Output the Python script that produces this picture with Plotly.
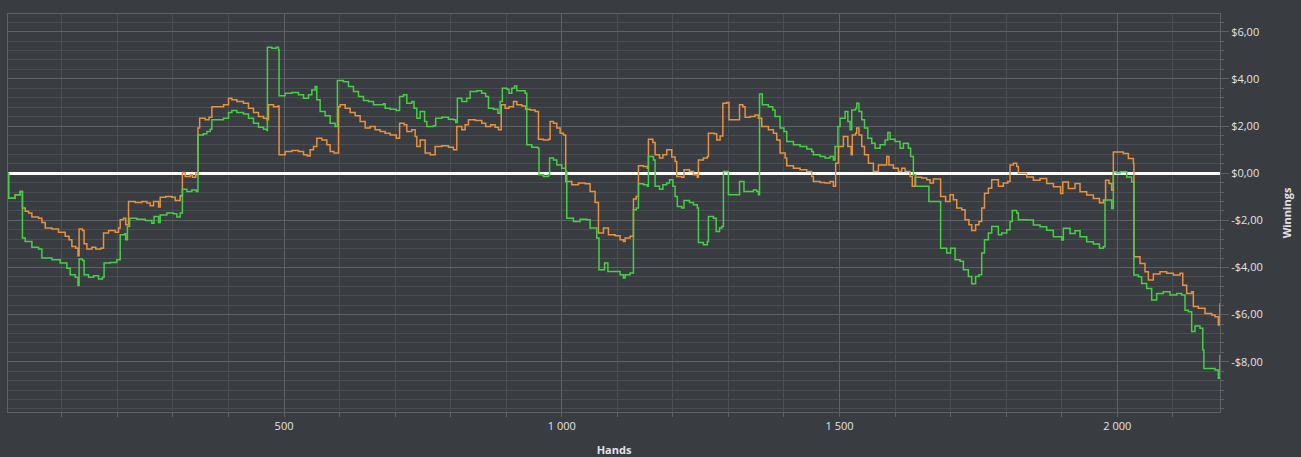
import plotly.graph_objects as go

# data (hand number, cumulative winnings in $)
green_hands = [3, 4, 16, 25, 29, 34, 46, 58, 64, 82, 97, 109, 115, 124, 129, 131, 137, 140, 148, 157,
               166, 173, 176, 187, 199, 205, 213, 215, 218, 222, 235, 250, 262, 266, 274, 277, 289, 301,
               307, 313, 317, 325, 334, 342, 345, 355, 361, 367,
               370, 391, 400, 406, 415, 427, 436, 445, 454, 463, 469, 470, 478, 486, 490, 491, 502, 514,
               526, 535, 544, 550, 556, 559, 565, 574, 583, 592, 596, 607, 616, 625, 634, 643, 652, 661,
               679, 682, 691, 702, 708, 715, 721, 730, 734, 739,
               745, 753, 757, 769, 773, 784, 796, 805, 809, 812, 820, 829, 835, 847, 856, 863, 868, 877,
               885, 889, 893, 901, 905, 910, 915, 919, 928, 934, 937, 946, 957, 959, 967, 976, 978, 985,
               991, 1000, 1007, 1009, 1021, 1033, 1045, 1051, 1063, 1067, 1077, 1083, 1096, 1105,
               1111, 1114, 1123, 1129, 1134, 1138, 1147, 1154, 1156, 1165, 1168, 1176, 1182, 1189, 1194,
               1200, 1204, 1208, 1216, 1220, 1230, 1237, 1244, 1246, 1255, 1262, 1264, 1273, 1278, 1284,
               1288, 1291, 1300, 1320, 1328, 1345, 1351, 1354, 1356, 1361, 1372, 1380, 1384, 1393, 1400,
               1405, 1417, 1429, 1441, 1450, 1453, 1465, 1474,
               1483, 1489, 1492, 1497, 1501, 1510, 1515, 1519, 1522, 1529, 1531, 1535, 1540, 1545, 1551,
               1558, 1564, 1573, 1582, 1587, 1591, 1600, 1609, 1615, 1624, 1628, 1633, 1637, 1661, 1682,
               1693, 1700, 1708, 1717, 1723, 1732, 1738, 1745, 1751, 1756, 1761, 1768, 1774, 1786, 1792,
               1801, 1807, 1811, 1819, 1822,
               1837, 1849, 1861, 1873, 1885, 1900, 1903, 1915, 1924, 1933, 1945, 1957, 1968, 1975, 1978,
               1990, 1993, 1999, 2005, 2017, 2026, 2030, 2038, 2044, 2053, 2062, 2071, 2083, 2095, 2107,
               2116, 2122, 2128, 2134, 2140, 2149, 2154, 2156, 2176, 2182, 2185]
green_won = [0, -1.06, -0.92, -0.78, -2.75, -2.90, -3.14, -3.22, -3.60, -3.67, -3.81, -4.03, -4.31, -4.41,
             -4.77, -3.64, -3.70, -4.31, -4.41, -4.35, -4.49, -4.41, -3.81, -3.79, -3.67, -2.61, -2.57,
             -2.82, -2.26, -1.91, -1.95, -2.01, -2.12, -1.84, -2.09, -1.77, -1.69, -1.72, -1.86, -1.69,
             -0.68, -0.78, -0.71, -0.78, 1.62, 1.67, 1.77, 1.86,
             2.26, 2.33, 2.57, 2.66, 2.57, 2.51, 2.33, 2.12, 1.95, 1.86, 1.81, 5.34, 5.30, 5.34, 5.23,
             3.28, 3.39, 3.42, 3.32, 3.18, 3.32, 3.53, 3.67, 3.11, 2.61, 2.43, 2.12, 1.98, 3.93, 3.88,
             3.67, 3.46, 3.25, 3.08, 3.04, 2.90, 2.94, 2.75, 2.71, 2.66, 3.25, 3.32, 2.97, 3.04, 2.75, 2.33,
             2.61, 2.19, 1.98, 2.01, 2.33, 2.37, 2.29, 2.26, 2.15, 3.18, 3.04, 3.18, 3.46, 3.50, 3.39,
             3.25, 2.75, 2.71, 2.54, 3.04, 3.60, 3.56, 3.39, 3.60, 3.70, 3.50, 3.50, 3.39, 1.20, 1.10,
             1.06, -0.07, -0.14, -0.07, 0.64, 0.56, 0.35, 0.21, 0.07, -1.91, -2.05, -1.95, -1.98, -2.33,
             -2.75, -4.10, -3.81, -4.17, -4.17, -4.31,
             -4.45, -4.31, -4.24, -1.55, -1.48, -0.45, -0.49, -0.56, 0.71, 0.56, -0.56, -0.68, -0.49,
             -0.42, -0.28, -0.56, -0.99, -1.41, -1.48, -1.16, -1.24, -1.34, -1.48, -2.94, -3.04, -2.90,
             -1.84, -1.91, -2.47, -2.33, -2.26, 0.07, -0.92, -0.35, -0.78, -0.71, -0.78, -0.92, 3.36,
             2.90, 2.82, 2.68, 2.40, 1.91, 1.77, 1.34, 1.20, 1.13, 1.02, 0.92, 0.78, 0.71, 0.64,
             0.71, 0.56, 1.13, 1.98, 2.33, 2.61, 2.19, 1.84, 2.68, 2.75, 2.97, 2.61, 2.26, 1.91, 1.48,
             1.27, 1.06, 1.20, 1.41, 1.72, 1.44, 1.34, 1.06, 1.27, 1.06, 0.71, -0.07, -0.56, -1.20, -3.18,
             -3.39, -3.18, -3.67, -3.74, -4.10, -4.38, -4.69, -4.38, -4.31, -3.39, -2.82, -2.54, -2.26,
             -2.61, -2.54, -2.40, -2.05, -1.58, -1.69, -1.98,
             -1.99, -2.20, -2.27, -2.42, -2.70, -2.84, -2.34, -2.56, -2.44, -2.70, -2.91, -3.01, -3.19,
             -3.12, -1.14, -1.50, 0.06, 0.01, 0.06, -0.16, -0.37, -4.32, -4.39, -4.68, -4.89, -5.38,
             -5.10, -5.03, -5.17, -5.10, -5.17, -5.81, -5.88, -6.72, -6.48, -6.58, -7.50, -8.28, -8.35,
             -8.70, -7.71]

orange_hands = [3, 4, 16, 25, 29, 34, 40, 46, 58, 64, 70, 82, 94, 106, 113, 118, 125, 129, 131, 137,
                140, 145, 154, 161, 170, 175, 184, 196, 202, 205, 211, 215, 220, 232, 244, 253, 259, 265,
                274, 277, 287, 298, 304, 313, 317, 322, 331, 335, 341, 345, 348, 358, 365, 370,
                391, 400, 406, 415, 427, 436, 445, 454, 463, 469, 472, 481, 489, 491, 502, 514, 526, 535,
                542, 547, 553, 559, 568, 577, 583, 590, 598, 601, 610, 619, 628, 637, 646, 655, 664, 673,
                682, 691, 702, 708, 716, 721, 730, 736, 739, 745,
                754, 763, 772, 784, 796, 805, 811, 820, 826, 832, 844, 856, 863, 872, 880, 886, 891, 898,
                905, 913, 919, 928, 935, 943, 952, 958, 967, 976, 979, 985, 991, 997, 1003, 1007, 1018,
                1030, 1042, 1051, 1060, 1066, 1075, 1084, 1096, 1105,
                1111, 1114, 1123, 1129, 1134, 1138, 1147, 1154, 1156, 1164, 1168, 1176, 1182, 1189, 1198,
                1204, 1207, 1216, 1220, 1230, 1237, 1244, 1246, 1255, 1262, 1264, 1274, 1279, 1285, 1290,
                1297, 1301, 1316, 1320, 1326, 1330, 1339, 1348, 1354, 1360, 1372, 1381, 1387, 1393, 1402,
                1405, 1417, 1429, 1441, 1450, 1453, 1465, 1474,
                1483, 1489, 1493, 1498, 1507, 1515, 1521, 1523, 1529, 1531, 1535, 1540, 1545, 1552, 1561,
                1570, 1585, 1589, 1597, 1606, 1612, 1618, 1627, 1631, 1636, 1648, 1657, 1663, 1669, 1682,
                1691, 1699, 1705, 1711, 1720, 1726, 1733, 1738, 1745, 1751, 1756, 1761, 1768, 1774, 1786,
                1795, 1803, 1807, 1813, 1819, 1822,
                1837, 1849, 1861, 1873, 1885, 1898, 1902, 1912, 1924, 1933, 1945, 1957, 1968, 1975, 1979,
                1985, 1990, 1993, 2011, 2020, 2029, 2030, 2041, 2050, 2056, 2065, 2077, 2089, 2101, 2113,
                2118, 2125, 2134, 2137, 2146, 2158, 2170, 2176, 2182, 2185]
orange_won = [0, -1.06, -0.92, -0.78, -1.48, -1.62, -1.69, -1.86, -1.91, -2.09, -2.33, -2.37, -2.51,
              -2.68, -2.82, -3.11, -3.18, -3.50, -2.37, -2.43, -2.99, -3.22, -3.14, -3.22, -3.18, -2.54,
              -2.43, -2.51, -2.33, -1.98, -1.91, -2.19, -1.20, -1.24, -1.20, -1.27, -1.38, -1.20, -1.44,
              -1.02, -0.99, -1.02, -1.16, -0.96, 0.03, -0.14, -0.07, -0.17, 0.0, 1.91, 2.33, 2.26, 2.37, 2.82,
              2.90, 3.18, 3.11, 3.04, 2.97, 2.75, 2.57, 2.40, 2.33, 2.26, 2.90, 2.82, 2.85, 0.78, 0.92,
              0.96, 0.92, 0.78, 0.73, 0.99, 1.13, 1.48, 1.41, 1.20, 0.92, 0.85, 2.82, 2.90, 2.75, 2.57,
              2.43, 2.19, 1.91, 1.98, 1.84, 1.77, 1.69, 1.62, 1.48, 2.12, 2.05, 1.77, 1.84, 1.55, 1.13, 1.41,
              0.85, 0.78, 1.13, 1.16, 1.10, 0.99, 1.98, 1.84, 2.05, 2.26, 2.23, 2.12, 1.98, 2.05, 1.95,
              1.84, 2.90, 2.75, 2.82, 3.04, 2.90, 2.85, 2.71, 2.68, 2.61, 1.44, 1.41, 1.44, 2.19, 2.12,
              1.91, 1.69, 1.62, -0.35, -0.49, -0.42, -0.45, -0.78, -1.24, -2.54, -2.33, -2.61, -2.66, -2.82,
              -2.90, -2.75, -2.68, -1.10, -0.99, 0.31, 0.28, 0.21, 1.44, 1.30, 0.78, 0.64, 0.78, 0.99,
              0.68, 0.49, -0.14, -0.17, 0.14, 0.07, -0.07, -0.17, 0.56, 0.64, 0.71, 1.69, 1.67, 1.41, 1.58,
              2.97, 3.00, 2.26, 2.26, 2.90, 2.82, 2.37, 2.40, 2.47, 2.33, 1.98, 1.84, 1.69, 1.41, 0.85,
              0.64, 0.31, 0.21, 0.14, 0.07, -0.14, -0.35, -0.40, -0.42,
              -0.35, -0.56, 0.42, 1.13, 1.55, 1.13, 0.78, 1.62, 1.69, 1.91, 1.62, 1.13, 0.78, 0.42, 0.07,
              0.35, 0.71, 0.35, 0.21, 0.07, 0.21, 0.07, -0.14, -0.56, -0.17, -0.21, -0.28, -0.42, -0.25,
              -0.99, -1.20, -0.92, -1.13, -1.48, -1.55, -1.98, -2.19, -2.43, -2.19, -2.05, -1.48, -0.85,
              -0.64, -0.28, -0.56, -0.42, -0.35, 0.35, 0.42, 0.28, 0.0,
              -0.16, -0.30, -0.23, -0.44, -0.58, -0.86, -0.37, -0.65, -0.44, -0.79, -0.93, -1.07, -1.26,
              -1.14, -0.30, -0.44, -0.72, 0.90, 0.83, 0.62, 0.41, -3.55, -3.83, -4.18, -4.53, -4.28,
              -4.18, -4.25, -4.32, -4.25, -4.75, -5.10, -5.03, -5.66, -5.73, -5.95, -6.02, -6.09, -6.44,
              -5.52]

y_ticks = [-8, -6, -4, -2, 0, 2, 4, 6]
y_labels = ["-$8,00", "-$6,00", "-$4,00", "-$2,00", "$0,00", "$2,00", "$4,00", "$6,00"]
x_ticks = [500, 1000, 1500, 2000]
x_labels = ["500", "1 000", "1 500", "2 000"]

BG = "#393c40"
TXT = "#e2e2e2"
MAJOR = "#5e6165"
MINOR = "#4a4d51"

fig = go.Figure()
fig.add_trace(go.Scatter(x=orange_hands, y=orange_won, mode="lines", line_shape="hv",
                         line=dict(color="#e8913f", width=1.5), name="EV", hoverinfo="skip"))
fig.add_trace(go.Scatter(x=green_hands, y=green_won, mode="lines", line_shape="hv",
                         line=dict(color="#45cf45", width=1.5), name="Winnings", hoverinfo="skip"))

fig.update_layout(
    width=1301, height=457,
    margin=dict(l=8, r=81, t=14, b=45),
    paper_bgcolor=BG, plot_bgcolor=BG,
    showlegend=False,
    font=dict(family="Open Sans", size=11, color=TXT),
    xaxis=dict(
        range=[3, 2185], tickmode="array", tickvals=x_ticks, ticktext=x_labels,
        showgrid=True, gridcolor=MAJOR, gridwidth=1,
        ticks="outside", ticklen=4, tickcolor=MAJOR,
        minor=dict(tickmode="linear", tick0=0, dtick=100, showgrid=True, gridcolor=MINOR,
                   ticks="outside", ticklen=4, tickcolor=MAJOR),
        showline=True, linecolor=MAJOR, mirror=True, zeroline=False, automargin=False,
        title=dict(text="<b>Hands</b>", font=dict(size=11, color=TXT), standoff=16),
    ),
    yaxis=dict(
        side="right", range=[-10.13, 6.75], tickmode="array", tickvals=y_ticks, ticktext=y_labels,
        showgrid=True, gridcolor=MAJOR, gridwidth=1,
        ticks="outside", ticklen=8, tickcolor=MAJOR,
        minor=dict(tickmode="linear", tick0=0, dtick=0.4, showgrid=True, gridcolor=MINOR,
                   ticks="outside", ticklen=3, tickcolor=MAJOR),
        showline=True, linecolor=MAJOR, mirror=True, automargin=False,
        zeroline=True, zerolinecolor="#ffffff", zerolinewidth=2.5,
        title=dict(text="<b>Winnings</b>", font=dict(size=11, color=TXT), standoff=21),
    ),
)

# drop the default page margin so the chart fills the window like the original
fig.write_html("out.html", config={"displayModeBar": False},
               post_script="document.body.style.margin='0';document.body.style.background='#393c40';")
